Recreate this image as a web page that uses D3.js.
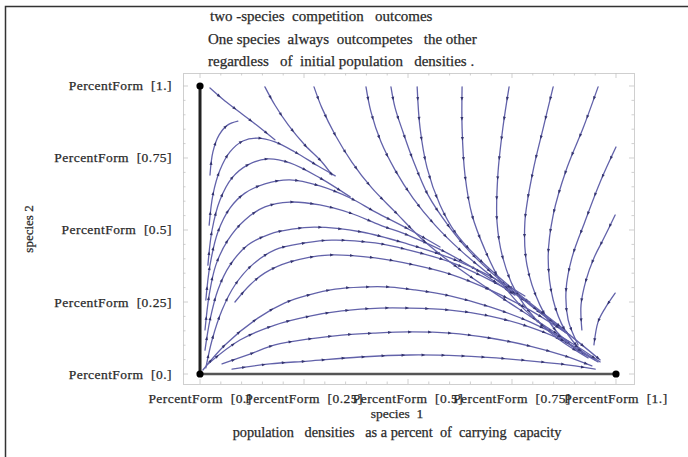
<!DOCTYPE html>
<html><head><meta charset="utf-8">
<script src="https://cdn.jsdelivr.net/npm/d3@7"></script>
<style>html,body{margin:0;padding:0;background:#fff;} svg{display:block;}</style>
</head><body><svg id="c" width="688" height="457"></svg>
<script>
// ---- text / ticks ----
const titleLines = ["two -species  competition   outcomes",
                    "One species  always  outcompetes   the other",
                    "regardless   of  initial population   densities ."];
const xTicks = [0, 0.25, 0.5, 0.75, 1];
const xTickLabels = ["PercentForm  [0.]", "PercentForm  [0.25]", "PercentForm  [0.5]", "PercentForm  [0.75]", "PercentForm  [1.]"];
const yTicks = [0, 0.25, 0.5, 0.75, 1];
const yTickLabels = ["PercentForm  [0.]", "PercentForm  [0.25]", "PercentForm  [0.5]", "PercentForm  [0.75]", "PercentForm  [1.]"];
const xLabel = "species  1";
const xSubLabel = "population   densities   as a percent  of  carrying  capacity";
const yLabel = "species 2";

// ---- equilibria and boundary trajectories ----
const equilibria = [[0,0],[0,1],[1,0]];
const axisY = [[0,0],[0,1]];
const axisX = [[0,0],[1,0]];

// ---- streamlines (species1, species2) ----
const C1 = [[0.024,0.993],[0.060,0.948],[0.101,0.903],[0.139,0.861],[0.180,0.813]];
const C2 = [[0.156,0.997],[0.180,0.934],[0.212,0.865],[0.252,0.795],[0.293,0.736],[0.317,0.691]];
const C3 = [[0.274,0.997],[0.293,0.924],[0.325,0.830],[0.365,0.736],[0.413,0.646],[0.469,0.563],[0.536,0.465],[0.601,0.389],[0.697,0.292],[0.793,0.201],[0.889,0.111]];
const C4 = [[0.399,0.997],[0.411,0.910],[0.435,0.806],[0.469,0.708],[0.512,0.611],[0.565,0.517],[0.625,0.431],[0.697,0.344],[0.793,0.240],[0.877,0.146]];
const C5 = [[0.459,0.997],[0.469,0.924],[0.488,0.840],[0.512,0.743],[0.548,0.622],[0.596,0.517],[0.649,0.424],[0.721,0.326],[0.805,0.229],[0.889,0.135],[0.962,0.049]];
const C6 = [[0.522,0.997],[0.529,0.854],[0.546,0.715],[0.577,0.587],[0.613,0.493],[0.661,0.413],[0.721,0.333],[0.793,0.247],[0.877,0.153]];
const C7 = [[0.630,0.997],[0.630,0.854],[0.637,0.691],[0.654,0.552],[0.685,0.431],[0.721,0.326],[0.769,0.240],[0.829,0.163],[0.901,0.090],[0.957,0.042]];
const C8 = [[0.743,0.997],[0.728,0.854],[0.716,0.691],[0.714,0.528],[0.728,0.403],[0.757,0.292],[0.805,0.194],[0.865,0.118],[0.933,0.056]];
const C9 = [[0.849,0.997],[0.825,0.854],[0.800,0.701],[0.781,0.528],[0.786,0.378],[0.817,0.240],[0.858,0.146],[0.913,0.076]];
const C10 = [[0.957,0.997],[0.921,0.854],[0.882,0.715],[0.849,0.552],[0.837,0.403],[0.849,0.257],[0.877,0.153],[0.925,0.066]];
const C11 = [[1.0,0.788],[0.962,0.667],[0.925,0.528],[0.894,0.403],[0.880,0.292],[0.885,0.188],[0.909,0.101]];
const C12 = [[0.998,0.552],[0.971,0.472],[0.947,0.403],[0.928,0.326],[0.916,0.240],[0.918,0.153]];
const C13 = [[0.998,0.281],[0.974,0.229],[0.957,0.181],[0.947,0.101]];
const B1 = [[0.077,0.017],[0.168,0.035],[0.260,0.045],[0.385,0.059],[0.505,0.066],[0.625,0.063],[0.745,0.052],[0.865,0.035],[0.950,0.017]];
const B2 = [[0.053,0.035],[0.120,0.069],[0.180,0.101],[0.264,0.122],[0.341,0.135],[0.421,0.142],[0.500,0.146],[0.601,0.142],[0.697,0.125],[0.793,0.097],[0.877,0.063],[0.942,0.028]];
const B3 = [[0.019,0.035],[0.096,0.118],[0.180,0.170],[0.264,0.201],[0.341,0.219],[0.433,0.229],[0.500,0.229],[0.601,0.222],[0.697,0.201],[0.793,0.163],[0.880,0.111],[0.950,0.049]];
const B4 = [[0.007,0.014],[0.060,0.101],[0.139,0.194],[0.204,0.247],[0.260,0.274],[0.325,0.295],[0.389,0.302],[0.457,0.302],[0.517,0.292],[0.601,0.271],[0.697,0.233],[0.793,0.181],[0.889,0.111],[0.962,0.042]];
const B5 = [[0.084,0.250],[0.120,0.309],[0.156,0.351],[0.216,0.389],[0.308,0.413],[0.421,0.403],[0.517,0.378],[0.601,0.347],[0.697,0.292],[0.793,0.222],[0.889,0.135]];
const B6 = [[0.014,0.021],[0.029,0.118],[0.053,0.222],[0.084,0.309],[0.125,0.378],[0.180,0.431],[0.252,0.455],[0.317,0.465],[0.421,0.455],[0.500,0.431],[0.601,0.389],[0.697,0.326],[0.793,0.250]];
const B7 = [[0.012,0.083],[0.024,0.188],[0.043,0.292],[0.072,0.378],[0.115,0.448],[0.168,0.486],[0.221,0.503],[0.276,0.510],[0.389,0.493],[0.500,0.451],[0.601,0.403],[0.697,0.340],[0.781,0.271]];
const B8 = [[0.012,0.153],[0.022,0.274],[0.038,0.378],[0.067,0.465],[0.108,0.535],[0.156,0.580],[0.216,0.597],[0.288,0.587],[0.361,0.559],[0.433,0.517],[0.505,0.479],[0.589,0.424],[0.673,0.354],[0.757,0.274]];
const B9 = [[0.014,0.257],[0.024,0.378],[0.043,0.493],[0.072,0.576],[0.108,0.628],[0.156,0.660],[0.216,0.674],[0.288,0.653],[0.361,0.611],[0.421,0.563],[0.505,0.500],[0.577,0.441]];
const B10 = [[0.019,0.378],[0.029,0.500],[0.048,0.604],[0.077,0.681],[0.115,0.726],[0.163,0.747],[0.216,0.733],[0.288,0.681],[0.361,0.615]];
const B11 = [[0.022,0.517],[0.031,0.622],[0.048,0.708],[0.072,0.771],[0.103,0.809],[0.139,0.819],[0.180,0.806],[0.228,0.771],[0.284,0.722],[0.325,0.688]];
const B12 = [[0.024,0.691],[0.031,0.771],[0.046,0.830],[0.067,0.865],[0.091,0.878]];

const streams = [C1,C2,C3,C4,C5,C6,C7,C8,C9,C10,C11,C12,C13,B1,B2,B3,B4,B5,B6,B7,B8,B9,B10,B11,B12];

// ---- drawing ----
const svg = d3.select("#c");
const serif = "'Liberation Serif','DejaVu Serif',serif";
const ink = "#2a2a2a";
svg.append("rect").attr("width",688).attr("height",457).attr("fill","#fff");
svg.append("path").attr("d","M5.5,457 V6.5 H688").attr("fill","none").attr("stroke","#333").attr("stroke-width",1.5);

const x = d3.scaleLinear().domain([-0.0409, 1.0433]).range([183, 634]);
const y = d3.scaleLinear().domain([-0.0347, 1.0451]).range([384, 73]);

// frame
svg.append("rect").attr("x",x.range()[0]+0.5).attr("y",y.range()[1]+0.5)
  .attr("width",x.range()[1]-x.range()[0]).attr("height",y.range()[0]-y.range()[1])
  .attr("fill","none").attr("stroke","#cfcfcf").attr("stroke-width",1);

// frame ticks
const minor = d3.range(0, 1.0001, 0.05);
const gT = svg.append("g").attr("stroke","#c4c4c4").attr("stroke-width",0.8);
minor.forEach(v=>{
  const major = xTicks.some(t=>Math.abs(t-v)<1e-6);
  const L = major?5:2.5;
  gT.append("line").attr("x1",x(v)).attr("x2",x(v)).attr("y1",384).attr("y2",384-L);
  gT.append("line").attr("x1",x(v)).attr("x2",x(v)).attr("y1",73).attr("y2",73+L);
  gT.append("line").attr("y1",y(v)).attr("y2",y(v)).attr("x1",183).attr("x2",183+L);
  gT.append("line").attr("y1",y(v)).attr("y2",y(v)).attr("x1",634).attr("x2",634-L);
});

// streamlines
const line = d3.line().x(d=>x(d[0])).y(d=>y(d[1])).curve(d3.curveCatmullRom.alpha(0.5));
const gS = svg.append("g");
streams.forEach(s=>{
  const p = gS.append("path").attr("d",line(s)).attr("fill","none")
    .attr("stroke","#6262aa").attr("stroke-width",1.3).attr("stroke-linecap","round");
  const node = p.node();
  const L = node.getTotalLength();
  for(let t=12; t<=L; t+=20){
    const a = node.getPointAtLength(Math.max(0,t-1));
    const b = node.getPointAtLength(Math.min(L,t+1));
    const ang = Math.atan2(b.y-a.y, b.x-a.x)*180/Math.PI;
    const c = node.getPointAtLength(t);
    gS.append("path").attr("d","M2,0L-1.8,-1.5L-1.8,1.5Z")
      .attr("transform",`translate(${c.x},${c.y}) rotate(${ang})`)
      .attr("fill","#34346f");
  }
});

// boundary trajectories
const straight = d3.line().x(d=>x(d[0])).y(d=>y(d[1]));
svg.append("path").attr("d",straight(axisX)).attr("stroke","#555").attr("stroke-width",2.6).attr("fill","none");
svg.append("path").attr("d",straight(axisY)).attr("stroke","#222").attr("stroke-width",3).attr("fill","none");
svg.selectAll("circle.eq").data(equilibria).enter().append("circle")
  .attr("cx",d=>x(d[0])).attr("cy",d=>y(d[1])).attr("r",3.6).attr("fill","#000");

function txt(xp, yp, s, size, anchor, ls){
  return svg.append("text").attr("x",xp).attr("y",yp).attr("text-anchor",anchor||"start")
    .attr("font-family",serif).attr("font-size",size).attr("fill",ink)
    .attr("stroke",ink).attr("stroke-width",0.25)
    .attr("letter-spacing", ls||0)
    .style("white-space","pre").text(s);
}

// title
titleLines.forEach((t,i)=>{ txt(i===0?210:208, [21,44,66][i], t, 15, "start", 0); });

// y tick labels
yTicks.forEach((v,i)=>{ txt(172, y(v)+4.5, yTickLabels[i], 13.5, "end", 0.45); });
// x tick labels
xTicks.forEach((v,i)=>{ txt(x(v), 403, xTickLabels[i], 13.5, "middle", 0.45); });
txt(397, 418, xLabel, 13.5, "middle", 0);
txt(397, 437, xSubLabel, 14.3, "middle", 0);
svg.append("text").attr("transform","translate(33,229) rotate(-90)").attr("text-anchor","middle")
  .attr("font-family",serif).attr("font-size",13).attr("fill",ink)
  .attr("stroke",ink).attr("stroke-width",0.25)
  .style("white-space","pre").text(yLabel);
</script></body></html>
